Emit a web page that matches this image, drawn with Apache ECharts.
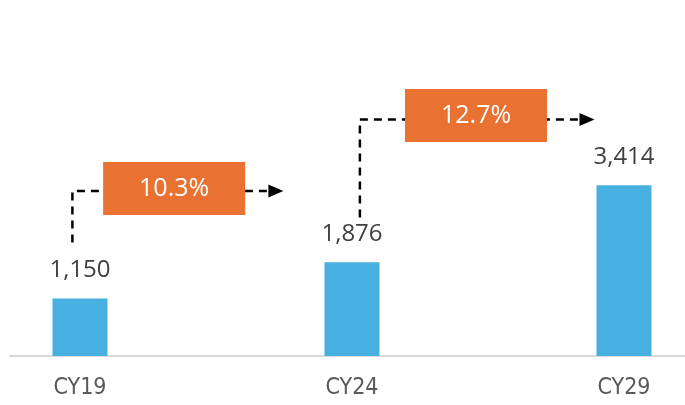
<!DOCTYPE html>
<html>
<head>
<meta charset="utf-8">
<script src="https://cdn.jsdelivr.net/npm/echarts@6/dist/echarts.min.js"></script>
<style>
    html, body { margin: 0; padding: 0; background: #fff; }
    #chart { width: 685px; height: 405px; }
</style>
</head>
<body>
<div id="chart"></div>
<script>
const categories = ['CY19', 'CY24', 'CY29'];
const values = [1150, 1876, 3414];
const cagrLabels = ['10.3%', '12.7%'];

const orange = '#E97132';
const blue = '#47B0E0';

// growth arrows, in data coords (x = category index, y = value)
function growthPath(x0, yStart, yLevel, xEnd) {
    return [[x0, yStart], [x0, yLevel], [xEnd, yLevel]];
}
const paths = [
    growthPath(-0.028, 2270, 3300, 0.72),
    growthPath(1.029, 2770, 4730, 1.864)
];
const boxPos = [[0.346, 3350], [1.456, 4810]];

const series = [
    {
        type: 'bar',
        data: values.map((v, i) => [i, v]),
        barWidth: 55,
        itemStyle: { color: blue },
        label: {
            show: true,
            position: 'top',
            distance: 16,
            color: '#404040',
            fontFamily: 'Open Sans',
            fontSize: 24,
            formatter: p => p.value[1].toLocaleString('en-US')
        },
        z: 2
    }
];

paths.forEach((path, i) => {
    series.push({
        type: 'line',
        data: path,
        symbol: 'none',
        silent: true,
        lineStyle: { color: '#000', width: 2.5, type: [8, 6] },
        z: 3,
        markPoint: {
            z: 4,
            silent: true,
            data: [{
                coord: path[2],
                symbol: 'triangle',
                symbolSize: [13, 15],
                symbolRotate: -90,
                itemStyle: { color: '#000' },
                label: { show: false }
            }]
        }
    });
    series.push({
        type: 'scatter',
        data: [boxPos[i]],
        symbol: 'rect',
        symbolSize: [142, 53],
        silent: true,
        itemStyle: { color: orange, opacity: 1 },
        z: 5,
        label: {
            show: true,
            position: 'inside',
            color: '#fff',
            fontFamily: 'Open Sans',
            fontSize: 25,
            formatter: () => cagrLabels[i]
        }
    });
});

const chart = echarts.init(document.getElementById('chart'), null, { renderer: 'canvas' });
chart.setOption({
    animation: false,
    grid: { left: 10, right: 0, top: 6, bottom: 49 },
    xAxis: {
        type: 'value',
        min: -0.2574,
        max: 2.2243,
        splitLine: { show: false },
        axisLine: { show: true, onZero: false, lineStyle: { color: '#d9d9d9', width: 2 } },
        axisTick: { show: false },
        axisLabel: {
            customValues: [0, 1, 2],
            formatter: v => categories[Math.round(v)],
            color: '#595959',
            fontFamily: 'DejaVu Sans Condensed',
            fontSize: 23,
            margin: 21
        }
    },
    yAxis: {
        type: 'value',
        min: 0,
        max: 7000,
        show: false,
        splitLine: { show: false }
    },
    series: series
});
</script>
</body>
</html>
